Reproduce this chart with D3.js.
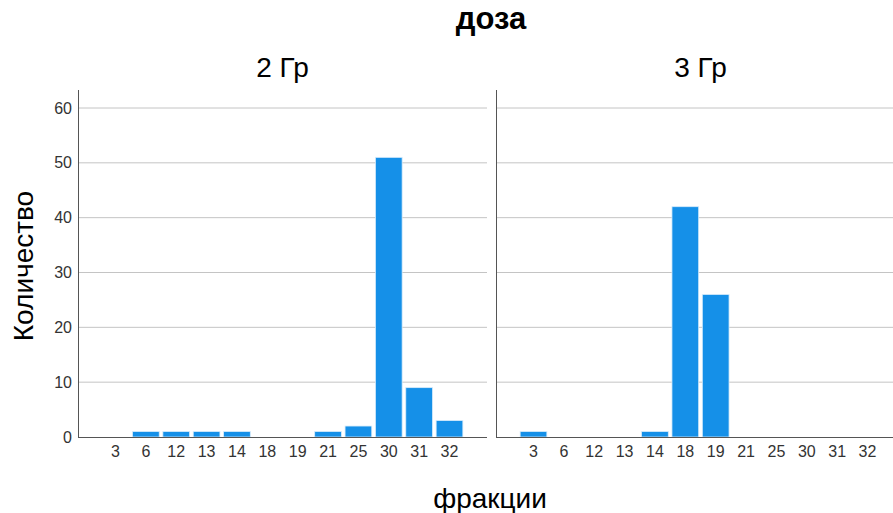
<!DOCTYPE html>
<html>
<head>
<meta charset="utf-8">
<script src="https://cdn.jsdelivr.net/npm/d3@7"></script>
<style>
  body { margin: 0; background: #fff; }
  text { font-family: Arial, "Liberation Sans", sans-serif; }
</style>
</head>
<body>
<svg id="chart" width="893" height="513"></svg>
<script>
const fractions = ["3", "6", "12", "13", "14", "18", "19", "21", "25", "30", "31", "32"];
const panels = ["2 Гр", "3 Гр"];
const counts2Gy = [0, 1, 1, 1, 1, 0, 0, 1, 2, 51, 9, 3];
const counts3Gy = [1, 0, 0, 0, 1, 42, 26, 0, 0, 0, 0, 0];
const yTicks = [0, 10, 20, 30, 40, 50, 60];

const svg = d3.select("#chart");
const seriesList = [counts2Gy, counts3Gy];

const y = d3.scaleLinear().domain([0, 60]).range([437, 108]);
const panelLeft = [78, 496];
const panelWidth = 409;

// whole chart titles
svg.append("text").attr("x", 491).attr("y", 29).attr("text-anchor", "middle")
    .style("font-size", "31px").style("font-weight", "bold").text("доза");
svg.append("text").attr("x", 490).attr("y", 508).attr("text-anchor", "middle")
    .style("font-size", "28px").text("фракции");
svg.append("text").attr("transform", "translate(33,266) rotate(-90)").attr("text-anchor", "middle")
    .style("font-size", "28px").text("Количество");

panels.forEach((name, i) => {
    const x0 = panelLeft[i];
    const x = d3.scaleBand().domain(fractions)
        .range([x0 + 20.5, x0 + panelWidth - 20.5]).padding(0.12);
    const g = svg.append("g");

    // gridlines
    g.selectAll("line.grid").data(yTicks.slice(1)).join("line")
        .attr("x1", x0).attr("x2", x0 + panelWidth)
        .attr("y1", d => y(d)).attr("y2", d => y(d))
        .attr("stroke", "#c4c4c4").attr("stroke-width", 1);

    // bars
    const data = fractions.map((f, j) => ({ f, v: seriesList[i][j] }));
    g.selectAll("rect").data(data.filter(d => d.v > 0)).join("rect")
        .attr("x", d => x(d.f)).attr("width", x.bandwidth())
        .attr("y", d => y(d.v)).attr("height", d => y(0) - y(d.v))
        .attr("fill", "#1590e8").attr("stroke", "#d7ecfb").attr("stroke-width", 0.8);

    // axes lines
    g.append("line").attr("x1", x0 + 0.5).attr("x2", x0 + 0.5).attr("y1", 90).attr("y2", y(0))
        .attr("stroke", "#555").attr("stroke-width", 1);
    g.append("line").attr("x1", x0).attr("x2", x0 + panelWidth).attr("y1", y(0) + 0.5).attr("y2", y(0) + 0.5)
        .attr("stroke", "#555").attr("stroke-width", 1);

    // x tick labels
    const xAxis = d3.axisBottom(x).tickSize(0).tickPadding(9);
    const ax = g.append("g").attr("transform", `translate(0,${y(0)})`).call(xAxis);
    ax.select(".domain").remove();
    ax.selectAll("text").style("font-size", "16px").attr("fill", "#333")
        .style("font-family", "Arial, 'Liberation Sans', sans-serif");

    // panel title
    svg.append("text").attr("x", x0 + panelWidth / 2).attr("y", 77).attr("text-anchor", "middle")
        .style("font-size", "28px").text(name);
});

// y axis labels (left only)
const yAxis = d3.axisLeft(y).tickValues(yTicks).tickSize(0).tickPadding(6);
const ay = svg.append("g").attr("transform", "translate(78,0)").call(yAxis);
ay.select(".domain").remove();
ay.selectAll("text").style("font-size", "16px").attr("fill", "#333")
    .style("font-family", "Arial, 'Liberation Sans', sans-serif");
</script>
</body>
</html>
